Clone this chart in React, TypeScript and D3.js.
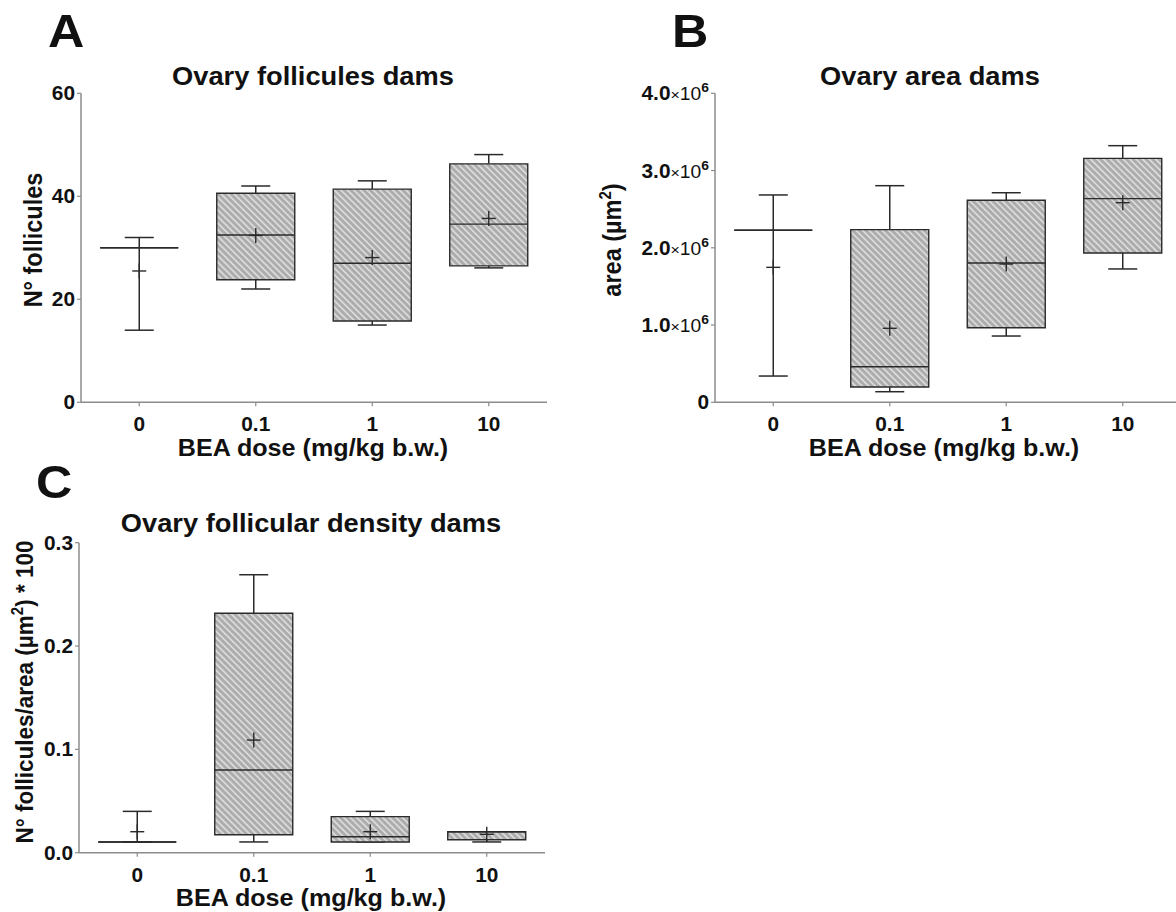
import React from "react";
import * as d3 from "d3";

const categories = ["0", "0.1", "1", "10"];

// Panel A: ovary follicles
const folMin = [14, 22, 15, 26.1];
const folQ1 = [30, 23.8, 15.8, 26.5];
const folMedian = [30, 32.5, 27, 34.6];
const folQ3 = [30, 40.6, 41.4, 46.3];
const folMax = [32, 42, 43, 48.1];
const folMean = [25.5, 32.4, 28.1, 35.7];
const folTicks = [0, 20, 40, 60];

// Panel B: ovary area (µm²)
const areaMin = [0.34e6, 0.137e6, 0.858e6, 1.726e6];
const areaQ1 = [2.227e6, 0.198e6, 0.966e6, 1.933e6];
const areaMedian = [2.227e6, 0.461e6, 1.803e6, 2.636e6];
const areaQ3 = [2.227e6, 2.235e6, 2.615e6, 3.158e6];
const areaMax = [2.684e6, 2.804e6, 2.713e6, 3.322e6];
const areaMean = [1.747e6, 0.958e6, 1.79e6, 2.584e6];
const areaTicks = [0, 1e6, 2e6, 3e6, 4e6];

// Panel C: follicular density
const denMin = [0.0104, 0.0104, 0.0104, 0.0104];
const denQ1 = [0.0104, 0.0174, 0.0104, 0.0126];
const denMedian = [0.0104, 0.08, 0.0155, 0.0203];
const denQ3 = [0.0104, 0.2317, 0.0349, 0.0203];
const denMax = [0.04, 0.269, 0.04, 0.0203];
const denMean = [0.0203, 0.109, 0.0203, 0.0178];
const denTicks = [0, 0.1, 0.2, 0.3];

const FONT = "'Liberation Sans', Arial, Helvetica, sans-serif";
const SX = 1.07;
const AXIS = "#8c8c8c";
const INK = "#2a2a2a";

function T(props: any) {
  const { x, y, size, weight = "bold", anchor = "start", rotate = false, children } = props;
  return (
    <text
      transform={`translate(${x},${y}) scale(${SX},1)${rotate ? " rotate(-90)" : ""}`}
      fontFamily={FONT}
      fontSize={size}
      fontWeight={weight}
      textAnchor={anchor}
      fill="#111"
    >
      {children}
    </text>
  );
}

function Panel(props: any) {
  const { x0, x1, yTop, yBot, ymax, ticks, tickFmt, mins, q1s, meds, q3s, maxs, means, clipRight } = props;
  const x = d3.scalePoint<string>().domain(categories).range([x0, x1]).padding(0.5);
  const y = d3.scaleLinear().domain([0, ymax]).range([yBot, yTop]);
  const bw = 78;
  const cw = 29;
  const axisEnd = clipRight ? Math.min(x1, 1176) : x1;
  return (
    <g>
      <line x1={x0} x2={x0} y1={y(ymax)} y2={yBot} stroke={AXIS} strokeWidth={1.5} />
      <line x1={x0} x2={axisEnd} y1={yBot} y2={yBot} stroke={AXIS} strokeWidth={1.5} />
      {ticks.map((t: number, i: number) => (
        <g key={"yt" + i}>
          <line x1={x0 - 4} x2={x0} y1={y(t)} y2={y(t)} stroke={AXIS} strokeWidth={1.2} />
          {tickFmt(t, x0 - 6, y(t))}
        </g>
      ))}
      {categories.map((c) => (
        <g key={"xt" + c}>
          <line x1={x(c)} x2={x(c)} y1={yBot} y2={yBot + 4} stroke={AXIS} strokeWidth={1.2} />
          <T x={x(c)} y={yBot + 29} size={19.5} anchor="middle">{c}</T>
        </g>
      ))}
      {categories.map((c, i) => {
        const cx = x(c) as number;
        const bx0 = cx - bw / 2;
        const bx1 = cx + bw / 2;
        const yq1 = y(q1s[i]);
        const yq3 = y(q3s[i]);
        const ymed = y(meds[i]);
        const ymn = y(mins[i]);
        const ymx = y(maxs[i]);
        const ym = y(means[i]);
        return (
          <g key={"box" + c}>
            <line x1={cx} x2={cx} y1={yq3} y2={ymx} stroke={INK} strokeWidth={1.5} />
            <line x1={cx} x2={cx} y1={yq1} y2={ymn} stroke={INK} strokeWidth={1.5} />
            <line x1={cx - cw / 2} x2={cx + cw / 2} y1={ymx} y2={ymx} stroke={INK} strokeWidth={1.5} />
            <line x1={cx - cw / 2} x2={cx + cw / 2} y1={ymn} y2={ymn} stroke={INK} strokeWidth={1.5} />
            <path
              d={`M${bx0},${yq3}H${bx1}V${yq1}H${bx0}Z`}
              fill="url(#hatch)"
              stroke={INK}
              strokeWidth={1.4}
            />
            <line x1={bx0} x2={bx1} y1={ymed} y2={ymed} stroke={INK} strokeWidth={1.4} />
            <line x1={cx - 7} x2={cx + 7} y1={ym} y2={ym} stroke={INK} strokeWidth={1.4} />
            <line x1={cx} x2={cx} y1={ym - 7.5} y2={ym + 7.5} stroke={INK} strokeWidth={1.4} />
          </g>
        );
      })}
    </g>
  );
}

const plainTick = (fmt: (v: number) => string) => (t: number, x: number, yy: number) => (
  <T x={x} y={yy + 7} size={19.5} anchor="end">{fmt(t)}</T>
);

const sciTick = (t: number, x: number, yy: number) => {
  if (t === 0) return <T x={x} y={yy + 7} size={19.5} anchor="end">0</T>;
  const mant = d3.format(".1f")(t / 1e6);
  return (
    <text
      transform={`translate(${x},${yy + 7}) scale(${SX},1)`}
      fontFamily={FONT}
      textAnchor="end"
      fill="#111"
    >
      <tspan fontSize={19.5} fontWeight="bold">{mant}</tspan>
      <tspan fontSize={15} fontWeight="normal">×</tspan>
      <tspan fontSize={18} fontWeight="normal">10</tspan>
      <tspan fontSize={13} fontWeight="bold" dy={-8}>6</tspan>
    </text>
  );
};

export default function App() {
  return (
    <svg
      width={1176}
      height={912}
      viewBox="0 0 1176 912"
      style={{ position: "absolute", left: 0, top: 0, background: "#fff" }}
    >
      <defs>
        <pattern id="hatch" width={4.6} height={4.6} patternUnits="userSpaceOnUse" patternTransform="rotate(-45)">
          <rect width={4.6} height={4.6} fill="#acacac" />
          <line x1={0.8} y1={0} x2={0.8} y2={4.6} stroke="#ececec" strokeWidth={1.3} />
        </pattern>
      </defs>

      {/* Panel A */}
      <T x={48} y={47} size={47}>A</T>
      <T x={313} y={85} size={25.5} anchor="middle">Ovary follicules dams</T>
      <T x={42} y={240} size={23.5} anchor="middle" rotate>N° follicules</T>
      <T x={313} y={456} size={23.5} anchor="middle">BEA dose (mg/kg b.w.)</T>
      <Panel
        x0={81} x1={547} yTop={93.3} yBot={402.3} ymax={60}
        ticks={folTicks} tickFmt={plainTick((v) => String(v))}
        mins={folMin} q1s={folQ1} meds={folMedian} q3s={folQ3} maxs={folMax} means={folMean}
      />

      {/* Panel B */}
      <T x={672} y={47} size={47}>B</T>
      <T x={930} y={85} size={25.5} anchor="middle">Ovary area dams</T>
      <text
        transform={`translate(621,240) scale(${SX},1) rotate(-90)`}
        fontFamily={FONT}
        fontSize={23.5}
        fontWeight="bold"
        textAnchor="middle"
        fill="#111"
      >
        area (µm<tspan fontSize={15} dy={-9}>2</tspan><tspan dy={9}>)</tspan>
      </text>
      <T x={944} y={456} size={23.5} anchor="middle">BEA dose (mg/kg b.w.)</T>
      <Panel
        x0={715} x1={1181} yTop={93.3} yBot={402.3} ymax={4e6} clipRight
        ticks={areaTicks} tickFmt={sciTick}
        mins={areaMin} q1s={areaQ1} meds={areaMedian} q3s={areaQ3} maxs={areaMax} means={areaMean}
      />

      {/* Panel C */}
      <T x={36} y={498} size={47}>C</T>
      <T x={311} y={532} size={25.5} anchor="middle">Ovary follicular density dams</T>
      <text
        transform={`translate(33,692) scale(${SX},1) rotate(-90)`}
        fontFamily={FONT}
        fontSize={22.5}
        fontWeight="bold"
        textAnchor="middle"
        fill="#111"
      >
        N° follicules/area (µm<tspan fontSize={15} dy={-9}>2</tspan><tspan dy={9}>) * 100</tspan>
      </text>
      <T x={311} y={906} size={23.5} anchor="middle">BEA dose (mg/kg b.w.)</T>
      <Panel
        x0={79} x1={545} yTop={542.7} yBot={852.7} ymax={0.3}
        ticks={denTicks} tickFmt={plainTick(d3.format(".1f"))}
        mins={denMin} q1s={denQ1} meds={denMedian} q3s={denQ3} maxs={denMax} means={denMean}
      />
    </svg>
  );
}
